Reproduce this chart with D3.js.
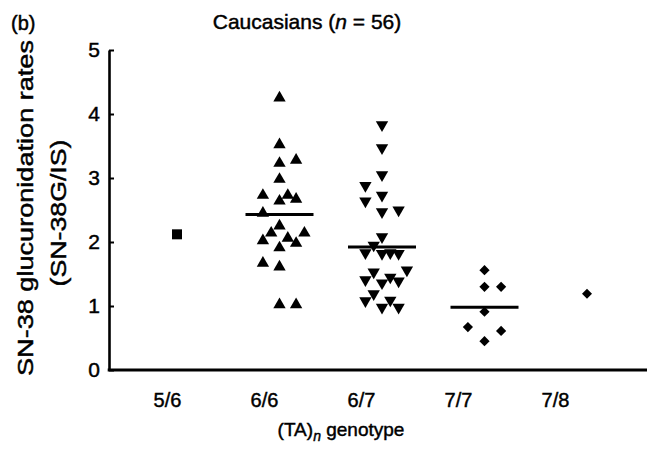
<!DOCTYPE html>
<html>
<head>
<meta charset="utf-8">
<script src="https://cdn.jsdelivr.net/npm/d3@7"></script>
<style>
  html, body { margin: 0; padding: 0; background: #fff; }
  svg { display: block; font-family: "Liberation Sans", Arial, Helvetica, sans-serif; }
  svg text { fill: #000; stroke: #000; stroke-width: 0.45px; }
</style>
</head>
<body>
<svg id="chart" width="647" height="461"></svg>
<script>
// ---------- data ----------
const categories = ["5/6", "6/6", "6/7", "7/7", "7/8"];
const yTicks = [0, 1, 2, 3, 4, 5];

const values56 = [2.12];
const slots56  = [0];

const values66 = [4.25, 3.52, 3.28, 3.23, 2.98, 2.73, 2.73, 2.67, 2.64, 2.45, 2.25,
                  2.14, 2.14, 2.06, 2.02, 1.98, 1.91, 1.67, 1.61, 1.02, 1.02];
const slots66  = [0, 0, 2, 0, 0, -2, 1, 2, 0, -2, 0,
                  -1, 3, 1, -2, 2, 0, -2, 0, 0, 2];

const values67 = [3.83, 3.47, 3.05, 2.88, 2.73, 2.64, 2.47, 2.50, 2.08, 1.95, 1.83, 1.82, 1.83,
                  1.82, 1.53, 1.56, 1.41, 1.45, 1.39, 1.36, 1.19, 1.08, 1.09, 0.98, 0.98];
const slots67  = [0, 0, 0, -2, 0, -2, 0, 2, 0, -1, -2, 0, 1,
                  2, -1, 3, -2, 1, 2, 0, -1, -2, 1, 0, 2];

const values77 = [1.56, 1.30, 1.30, 0.91, 0.67, 0.61, 0.45];
const slots77  = [0, 0, 2, 0, -2, 2, 0];

const values78 = [1.19];
const slots78  = [0];

const groupMeans = [null, 2.43, 1.92, 0.98, null];

const groups = [
  { cat: "5/6", values: values56, slots: slots56 },
  { cat: "6/6", values: values66, slots: slots66 },
  { cat: "6/7", values: values67, slots: slots67 },
  { cat: "7/7", values: values77, slots: slots77 },
  { cat: "7/8", values: values78, slots: slots78 }
];

// ---------- layout ----------
const svg = d3.select("#chart");
const axisX = 109, axisY0 = 370, axisTop = 50;
const slotW = 8.3;

const y = d3.scaleLinear().domain([0, 5]).range([axisY0, axisTop]);
const xPts = d3.scalePoint().domain(categories).range([177, 587]);
const xLab = d3.scalePoint().domain(categories).range([167, 555]);

const markerFor = {
  "5/6": { type: d3.symbolSquare, size: 100, rot: 0 },
  "6/6": { type: d3.symbolTriangle, size: 66, rot: 0 },
  "6/7": { type: d3.symbolTriangle, size: 66, rot: 180 },
  "7/7": { type: d3.symbolSquare, size: 52, rot: 45 },
  "7/8": { type: d3.symbolSquare, size: 50, rot: 45 }
};

// y axis
const yAxis = d3.axisLeft(y)
  .tickValues(yTicks)
  .tickFormat(d3.format("d"))
  .tickSizeInner(-5)
  .tickSizeOuter(0)
  .tickPadding(9);
const gy = svg.append("g").attr("transform", `translate(${axisX},0)`).call(yAxis);
gy.select(".domain").attr("stroke", "#000").attr("stroke-width", 2.6);
gy.selectAll(".tick line").attr("stroke", "#000").attr("stroke-width", 2);
gy.selectAll(".tick text").attr("font-size", 21)
  .attr("font-family", "'Liberation Sans', Arial, sans-serif");

// x axis
svg.append("line")
  .attr("x1", axisX - 1.3).attr("x2", 647)
  .attr("y1", axisY0).attr("y2", axisY0)
  .attr("stroke", "#000").attr("stroke-width", 2.8);

const xAxis = d3.axisBottom(xLab).tickSize(0).tickPadding(23);
const gx = svg.append("g").attr("transform", `translate(0,${axisY0})`).call(xAxis);
gx.select(".domain").remove();
gx.selectAll(".tick text").attr("font-size", 20)
  .attr("font-family", "'Liberation Sans', Arial, sans-serif");

// points
groups.forEach(g => {
  const m = markerFor[g.cat];
  const sym = d3.symbol().type(m.type).size(m.size);
  svg.append("g").selectAll("path")
    .data(g.values.map((v, i) => ({ v, s: g.slots[i] })))
    .join("path")
    .attr("d", sym)
    .attr("fill", "#000")
    .attr("transform", d => `translate(${xPts(g.cat) + d.s * slotW},${y(d.v)}) rotate(${m.rot})`);
});

// mean lines
svg.append("g").selectAll("line")
  .data(categories.map((c, i) => ({ c, m: groupMeans[i] })).filter(d => d.m != null))
  .join("line")
  .attr("x1", d => xPts(d.c) - 34)
  .attr("x2", d => xPts(d.c) + 34)
  .attr("y1", d => y(d.m))
  .attr("y2", d => y(d.m))
  .attr("stroke", "#000")
  .attr("stroke-width", 3);

// title
const title = svg.append("text")
  .attr("x", 307).attr("y", 29)
  .attr("text-anchor", "middle")
  .attr("font-size", 21);
title.append("tspan").text("Caucasians (");
title.append("tspan").attr("font-style", "italic").text("n");
title.append("tspan").text(" = 56)");

svg.append("text").attr("x", 11).attr("y", 30).attr("font-size", 20).text("(b)");

// x title
const xt = svg.append("text")
  .attr("x", 341).attr("y", 436)
  .attr("text-anchor", "middle")
  .attr("font-size", 19);
xt.append("tspan").text("(TA)");
xt.append("tspan").attr("font-style", "italic").attr("font-size", 14).attr("dy", 5).text("n");
xt.append("tspan").attr("dy", -5).text(" genotype");

// y title
svg.append("text")
  .attr("transform", "translate(25,208) rotate(-90)")
  .attr("text-anchor", "middle")
  .attr("dominant-baseline", "central")
  .attr("font-size", 22)
  .attr("textLength", 336)
  .attr("lengthAdjust", "spacingAndGlyphs")
  .text("SN-38 glucuronidation rates");
svg.append("text")
  .attr("transform", "translate(58,213) rotate(-90)")
  .attr("text-anchor", "middle")
  .attr("dominant-baseline", "central")
  .attr("font-size", 22)
  .attr("textLength", 147)
  .attr("lengthAdjust", "spacingAndGlyphs")
  .text("(SN-38G/IS)");
</script>
</body>
</html>
